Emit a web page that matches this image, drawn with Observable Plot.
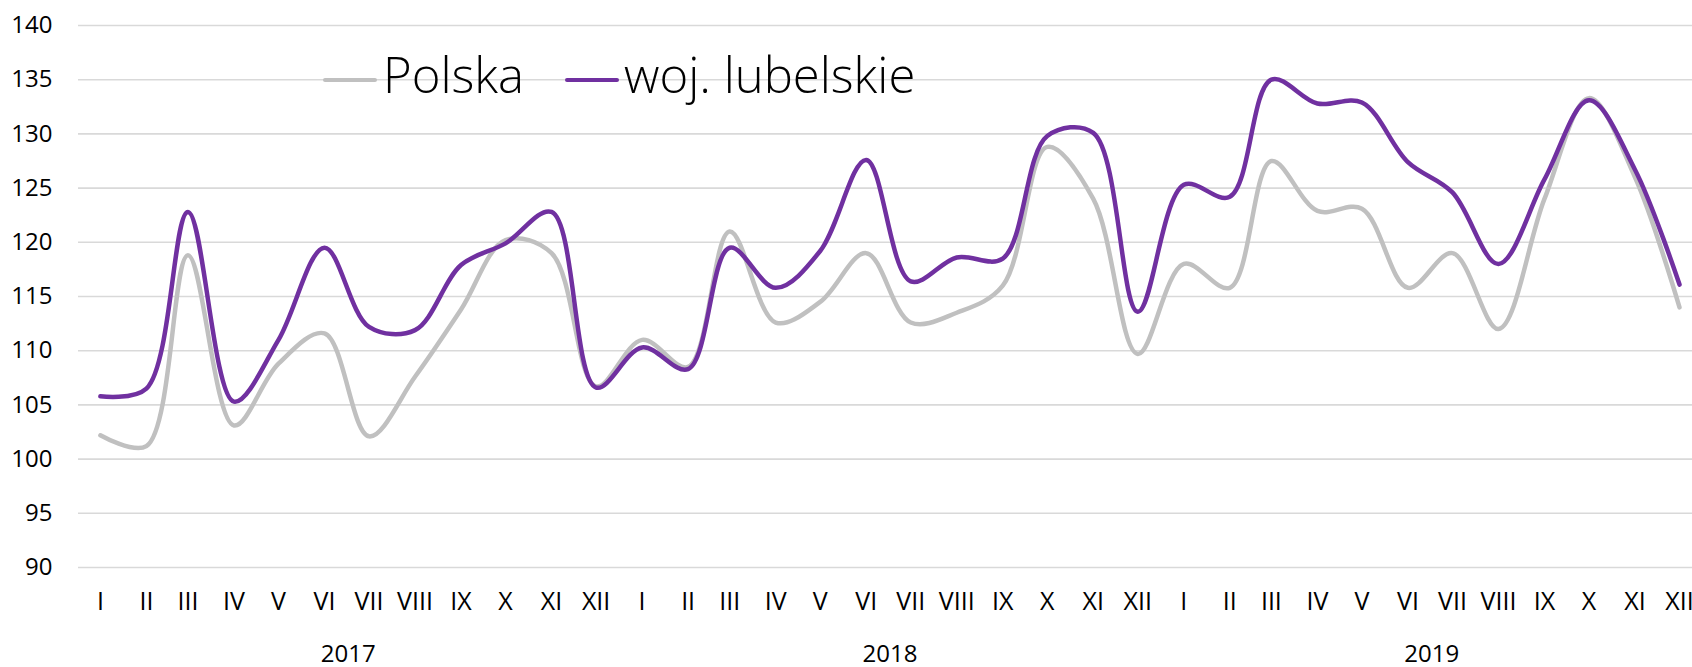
<!DOCTYPE html>
<html>
<head>
<meta charset="utf-8">
<script src="https://cdn.jsdelivr.net/npm/d3@7"></script>
<script src="https://cdn.jsdelivr.net/npm/@observablehq/plot@0.6"></script>
<style>
  html, body { margin: 0; padding: 0; background: #fff; }
  #wrap { position: relative; width: 1692px; height: 667px; font-family: "Open Sans", Roboto, sans-serif; }
  #legend span { position: absolute; }
  .sw { height: 4.5px; width: 54px; border-radius: 2.25px; top: 77.75px; }
  .lt { font-family: "Open Sans", Roboto, sans-serif; font-size: 49px; font-weight: 300; line-height: 49px; top: 49.8px; color: #000; white-space: nowrap; }
</style>
</head>
<body>
<div id="wrap">
  <div id="chart"></div>
  <div id="legend"></div>
</div>
<script>
const years = [2017, 2018, 2019];
const months = ["I","II","III","IV","V","VI","VII","VIII","IX","X","XI","XII"];
const seriesNames = ["Polska", "woj. lubelskie"];
const seriesColors = ["#C0C0C0", "#7030A0"];
const yTicks = [90, 95, 100, 105, 110, 115, 120, 125, 130, 135, 140];

const polska = [
  102.2, 101.2, 118.8, 103.1, 108.8, 111.6, 102.1, 107.6, 113.8, 120.2, 119.0, 106.7,
  111.0, 108.5, 121.0, 112.6, 114.5, 119.0, 112.6, 113.5, 116.0, 128.8, 124.0, 109.7,
  118.0, 115.8, 127.5, 122.9, 123.1, 115.8, 119.0, 112.0, 124.0, 133.3, 126.0, 114.0
];
const lubelskie = [
  105.8, 106.5, 122.8, 105.3, 111.0, 119.5, 112.2, 111.9, 117.9, 119.9, 122.8, 106.6,
  110.3, 108.3, 119.5, 115.8, 119.2, 127.6, 116.4, 118.6, 118.5, 129.8, 130.1, 113.6,
  125.3, 124.2, 135.0, 132.8, 132.9, 127.4, 124.6, 118.0, 125.8, 133.1, 126.7, 116.1
];

const dates = years.flatMap(y => months.map((m, i) => new Date(Date.UTC(y, i, 1))));
const seriesValues = [polska, lubelskie];
const rows = seriesNames.flatMap((name, s) =>
  dates.map((d, i) => ({ date: d, value: seriesValues[s][i], series: name })));
const yearMid = y => new Date((Date.UTC(y, 0, 1) + Date.UTC(y, 11, 1)) / 2);

const chart = Plot.plot({
  width: 1692,
  height: 667,
  marginLeft: 78,
  marginRight: 0,
  marginTop: 25,
  marginBottom: 100,
  style: { fontFamily: "'Open Sans', Roboto, sans-serif", fontSize: "24px", color: "#000", background: "#fff", overflow: "visible" },
  x: { type: "utc", domain: [new Date(Date.UTC(2016, 11, 17, 6)), new Date(Date.UTC(2019, 11, 9, 18))] },
  y: { domain: [90, 140] },
  color: { domain: seriesNames, range: seriesColors },
  marks: [
    Plot.gridY(yTicks, { stroke: "#d9d9d9", strokeOpacity: 1, strokeWidth: 1.6 }),
    Plot.axisY(yTicks, { tickSize: 0, tickPadding: 26, label: null, fontSize: 24 }),
    Plot.axisX(dates, { tickSize: 0, tickPadding: 25, label: null, fontSize: 25, tickFormat: d => months[d.getUTCMonth()] }),
    Plot.text(years, { x: yearMid, text: d => String(d), frameAnchor: "bottom", dy: 87, lineAnchor: "middle", fontSize: 24 }),
    Plot.line(rows, { x: "date", y: "value", z: "series", stroke: "series", curve: "catmull-rom", strokeWidth: 4.5, strokeLinecap: "round", strokeLinejoin: "round" })
  ]
});
document.getElementById("chart").appendChild(chart);

// legend
const legend = document.getElementById("legend");
const legendLayout = [
  { sw: 323, tx: 383 },
  { sw: 565, tx: 624 }
];
seriesNames.forEach((name, i) => {
  const sw = document.createElement("span");
  sw.className = "sw";
  sw.style.left = legendLayout[i].sw + "px";
  sw.style.background = seriesColors[i];
  legend.appendChild(sw);
  const t = document.createElement("span");
  t.className = "lt";
  t.style.left = legendLayout[i].tx + "px";
  t.textContent = name;
  legend.appendChild(t);
});
</script>
</body>
</html>
